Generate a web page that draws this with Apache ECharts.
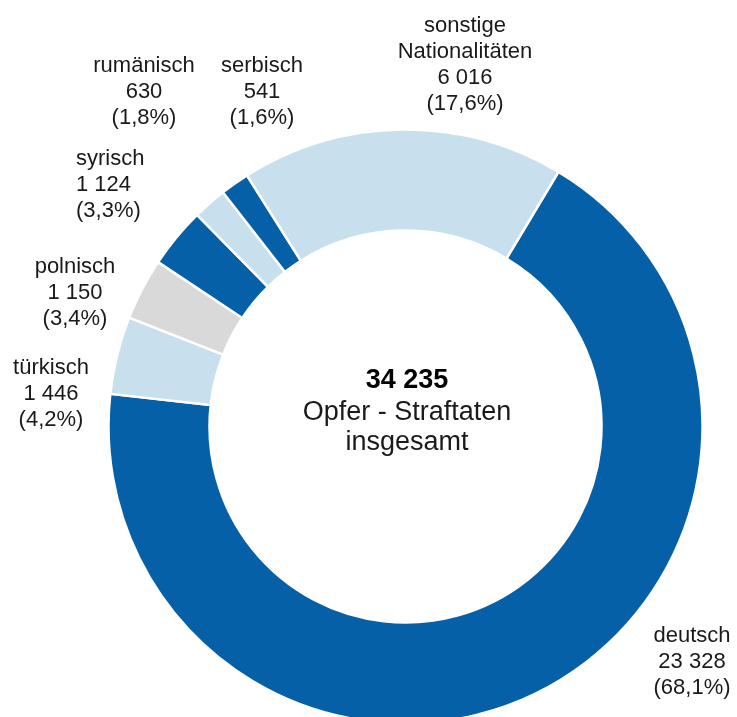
<!DOCTYPE html>
<html>
<head>
<meta charset="utf-8">
<script src="https://cdn.jsdelivr.net/npm/echarts@6/dist/echarts.min.js"></script>
<style>
  html, body { margin: 0; padding: 0; background: #fff; }
  #chart { width: 737px; height: 717px; }
</style>
</head>
<body>
<div id="chart"></div>
<script>
// Opfer nach Nationalität
var names = ["deutsch", "türkisch", "polnisch", "syrisch", "rumänisch", "serbisch", "sonstige\nNationalitäten"];
var values = [23328, 1446, 1150, 1124, 630, 541, 6016];
var colors = ["#0560a8", "#c8dfee", "#d9d9d9", "#0560a8", "#c8dfee", "#0560a8", "#c8dfee"];
var centerLines = ["Opfer - Straftaten", "insgesamt"];

// Lage der Beschriftungen (Mitte des Textblocks)
var labelPos = [
  [692, 662, "center"],
  [51, 394, "center"],
  [75, 293, "center"],
  [76, 185, "left"],
  [144, 92, "center"],
  [262, 92, "center"],
  [465, 65, "center"]
];

var total = values.reduce(function (a, b) { return a + b; }, 0);

function fmt(n) {
  return String(n).replace(/\B(?=(\d{3})+(?!\d))/g, " ");
}

var data = [];
for (var i = 0; i < values.length; i++) {
  data.push({ name: names[i], value: values[i], itemStyle: { color: colors[i] } });
}

var myChart = echarts.init(document.getElementById("chart"));
var font = "'Liberation Sans', Arial, sans-serif";

var option = {
  animation: false,
  graphic: [
    {
      type: "text", x: 407, y: 381,
      style: { text: fmt(total), font: "bold 27px " + font, fill: "#000", align: "center", verticalAlign: "middle" }
    },
    {
      type: "text", x: 407, y: 413,
      style: { text: centerLines[0], font: "27px " + font, fill: "#1a1a1a", align: "center", verticalAlign: "middle" }
    },
    {
      type: "text", x: 407, y: 443,
      style: { text: centerLines[1], font: "27px " + font, fill: "#1a1a1a", align: "center", verticalAlign: "middle" }
    }
  ],
  series: [
    {
      type: "pie",
      center: [405.5, 426.5],
      radius: [196, 297],
      startAngle: 59,
      clockwise: true,
      avoidLabelOverlap: false,
      silent: true,
      itemStyle: { borderColor: "#fff", borderWidth: 2.5 },
      label: {
        show: true,
        position: "outside",
        color: "#1a1a1a",
        fontSize: 22,
        lineHeight: 26,
        fontFamily: font,
        formatter: function (p) {
          var pct = (p.value / total * 100).toFixed(1).replace(".", ",");
          return p.name + "\n" + fmt(p.value) + "\n(" + pct + "%)";
        }
      },
      labelLine: { show: false },
      labelLayout: function (p) {
        var pos = labelPos[p.dataIndex];
        return { x: pos[0], y: pos[1], align: pos[2], verticalAlign: "middle" };
      },
      data: data
    }
  ]
};

option && myChart.setOption(option);
</script>
</body>
</html>
